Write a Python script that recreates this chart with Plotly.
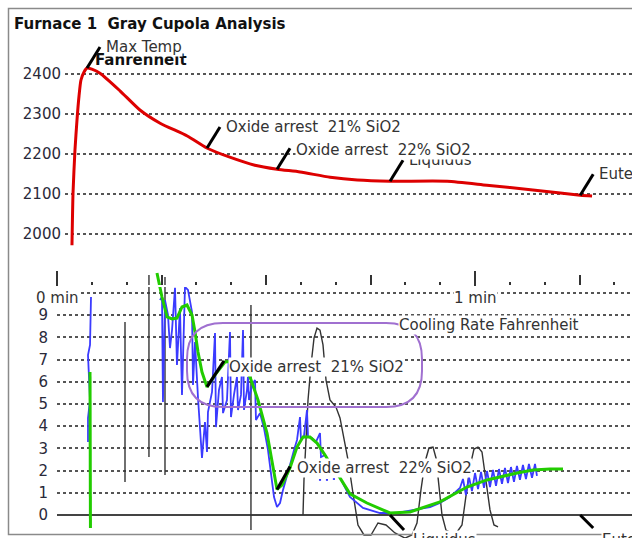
import plotly.graph_objects as go

W, H = 632, 538
FONT = "DejaVu Sans"

# ---------------- data ----------------
# Temperature curve (seconds, degrees F)
temp_t = [2.15, 2.30, 2.58, 2.87, 3.16, 3.44, 3.88, 4.31, 5.0, 6.17, 9.04, 11.9, 14.8, 18.7,
          21.5, 24.8, 28.4, 31.6, 34.9, 39.2, 43.1, 47.8, 56.0, 61.7, 68.3, 75.1, 76.8]
temp_f = [1972, 2102, 2210, 2285, 2345, 2385, 2405, 2415, 2412, 2402, 2358, 2310, 2277, 2245,
          2215, 2192, 2172, 2162, 2155, 2142, 2135, 2132, 2132, 2122, 2110, 2097, 2095]

# Smoothed cooling rate (green)
green_t = [4.74, 4.80, None,
           14.35, 15.07, 15.79, 16.51, 17.22, 17.94, 18.66, 19.38, 19.81, 20.24, 20.81, 21.53,
           22.68, 24.11, 25.55, 26.98, 27.70, 28.85, 30.14, 30.86, 31.58, 32.29, 33.44, 34.45,
           35.31, 36.31, 37.32, 38.47, 39.61, 40.62, 42.05, 44.49, 47.80, 50.67, 54.97, 58.85,
           61.72, 66.02, 68.32, 70.76, 72.63]
green_v = [6.44, -0.59, None,
           10.90, 9.82, 8.92, 8.83, 8.87, 9.37, 9.46, 9.01, 8.24, 7.34, 6.44, 5.77,
           6.31, 6.89, 6.94, 6.62, 6.22, 5.18, 3.69, 2.48, 1.15, 1.35, 2.12, 3.06,
           3.51, 3.51, 3.24, 2.70, 2.12, 1.67, 0.95, 0.54, 0.09, 0.14, 0.59, 1.26,
           1.58, 1.89, 2.03, 2.07, 2.07]

# Raw cooling rate (blue)
blue_t = [4.88, 4.74, 4.45, 4.59, 4.74, 4.45, 4.45, None,
          14.78, 15.07, 15.21, 15.50, 15.93, 16.22, 16.51, 16.94, 17.22, 17.65, 17.94, 18.37,
          18.80, 19.38, 19.52, 19.81, 20.24, 20.81, 21.24, 21.53, 21.67, 22.25, 22.68, 22.82,
          23.25, 23.68, 23.83, 24.40, 24.83, 24.97, 25.40, 25.83, 25.98, 26.41, 26.70, 26.84,
          27.27, 27.41, 27.56, 27.99, 28.42, 28.56, 29.13, 29.71, 30.28, 30.72, 31.15, 31.58,
          32.01, 32.44, 32.87, 33.44, 34.02, 34.45, 34.88, 35.02, 35.45, 35.88, 36.03, 36.60,
          37.17, 37.75, 37.89, 38.47, None,
          37.6, 37.9, None, 38.6, 38.9, None, 39.6, 39.9, None,
          40.62, 42.05, 43.92, 46.36, 48.80, 51.10, 53.54, 54.97, 56.41, 57.84,
          58.27, 58.70, 59.13, 59.56, 60.00, 60.43, 60.86, 61.29, 61.72, 62.15, 62.58, 63.01,
          63.44, 63.87, 64.30, 64.73, 65.16, 65.59, 66.02, 66.45, 66.88, 67.31, 67.74, 68.18,
          68.61, 68.89]
blue_v = [9.82, 7.66, 7.20, 6.44, 5.18, 4.37, 3.29, None,
          9.68, 9.82, 5.09, 9.68, 9.01, 7.52, 8.33, 10.23, 6.76, 9.32, 5.41, 10.27,
          10.14, 9.14, 5.86, 7.79, 5.27, 2.57, 4.19, 2.84, 4.64, 5.54, 8.20, 3.96,
          5.63, 6.22, 4.59, 5.18, 8.24, 4.41, 5.41, 6.22, 4.73, 5.41, 8.33, 4.73,
          5.63, 6.22, 5.18, 5.86, 6.08, 4.28, 4.59, 3.92, 2.93, 1.80, 0.81, 0.36,
          0.54, 1.13, 1.67, 2.25, 2.93, 3.38, 4.41, 3.38, 3.56, 4.73, 3.51, 3.47,
          3.29, 3.69, 2.61, 2.70, None,
          1.58, 1.58, None, 1.58, 1.58, None, 1.62, 1.62, None,
          1.67, 0.81, 0.32, 0.09, 0.09, 0.23, 0.36, 0.54, 0.81, 1.22,
          1.62, 0.90, 1.71, 1.08, 1.89, 1.17, 1.94, 1.22, 1.98, 1.26, 2.03, 1.31,
          2.07, 1.40, 2.12, 1.44, 2.16, 1.49, 2.21, 1.58, 2.25, 1.62, 2.30, 1.67,
          2.30, 1.76]

# Rate derivative (thin black)
deriv_t = [9.76, 9.76, None, 13.2, 13.2, None, 15.5, 15.5, None, 27.84, 27.84, None,
           35.31, 35.45, 35.74, 36.03, 36.46, 36.89, 37.32, 37.75, 38.18, 38.61, 39.18, 40.04,
           40.62, 41.19, 41.77, 42.48, 43.20, 44.06, 45.07, 46.07, 47.22, 48.51, 49.95, 50.95,
           51.67, 52.24, 52.82, 53.39, 53.97, 54.40, 54.83, 55.26, 55.83, 57.12, 58.13, 58.70,
           59.27, 59.85, 60.43, 61.00, 61.57, 62.15, 62.72, 63.30]
deriv_v = [8.69, 1.49, None, 10.81, 2.61, None, 10.72, 1.80, None, 9.46, -0.68, None,
           0.0, 1.58, 3.38, 5.18, 6.76, 7.97, 8.42, 8.33, 7.66, 6.08, 5.18, 4.86,
           4.37, 3.51, 2.48, 0.99, -0.45, -0.90, -0.90, -0.36, -0.45, -0.81, -1.04, -0.90,
           -0.36, 1.13, 2.39, 3.02, 3.06, 2.57, 1.35, 0.0, -0.68, -0.90, -0.45, 0.90,
           2.16, 2.97, 3.06, 2.84, 1.58, 0.23, -0.45, -0.54]

# Events
event_t = [4.31, 21.53, 31.58, 47.8, 75.1]
event_temp = [2415, 2215, 2162, 2132, 2097]
event_rate = [None, 5.77, 1.15, 0.0, 0.0]
event_labels = ["Max Temp", "Oxide arrest\u00a0 21% SiO2", "Oxide arrest\u00a0 22% SiO2",
                "Liquidus", "Eutectic"]

temp_ticks = [2000, 2100, 2200, 2300, 2400]
rate_ticks = list(range(0, 11))
rate_ticktext = [str(v) for v in range(0, 10)] + [""]

# ---------------- geometry (pixels) ----------------
PXS = 6.967      # pixels per second
X0 = 57          # pixel of t = 0
T_PX, T_SCALE = 74, 0.4     # 2400F at y=74, 0.4 px per degree
V_PX, V_SCALE = 515, 22.2   # rate 0 at y=515, 22.2 px per unit


def px_t(px):
    return (px - X0) / PXS


def pyd(py):
    return 1 - py / H


top_y_rng = [2400 - (260 - T_PX) / T_SCALE, 2400 + (T_PX - 30) / T_SCALE]
bot_y_rng = [-(538 - V_PX) / V_SCALE, (V_PX - 265) / V_SCALE]

fig = go.Figure()
fig.add_trace(go.Scatter(x=temp_t, y=temp_f, mode="lines", xaxis="x", yaxis="y",
                         line=dict(color="#dd0000", width=3, shape="spline", smoothing=0.6),
                         showlegend=False))
fig.add_trace(go.Scatter(x=deriv_t, y=deriv_v, mode="lines", xaxis="x2", yaxis="y2",
                         line=dict(color="#333333", width=1.4), showlegend=False,
                         connectgaps=False))
fig.add_trace(go.Scatter(x=blue_t, y=blue_v, mode="lines", xaxis="x2", yaxis="y2",
                         line=dict(color="#3b3bff", width=1.8), showlegend=False,
                         connectgaps=False))
fig.add_trace(go.Scatter(x=green_t, y=green_v, mode="lines", xaxis="x2", yaxis="y2",
                         line=dict(color="#22cc00", width=3), showlegend=False,
                         connectgaps=False))
# carriers for the time tick axes
fig.add_trace(go.Scatter(x=[], y=[], xaxis="x3", yaxis="y3", showlegend=False))
fig.add_trace(go.Scatter(x=[], y=[], xaxis="x4", yaxis="y3", showlegend=False))

grid = dict(showgrid=True, gridcolor="#555555", griddash="dot", gridwidth=1.5)
tickfont = dict(family=FONT, size=15, color="#2a2a3a")

fig.update_layout(
    width=W, height=H, margin=dict(l=0, r=0, t=0, b=0),
    paper_bgcolor="white", plot_bgcolor="white",
    xaxis=dict(domain=[65 / W, 1], range=[px_t(65), px_t(W)], anchor="y", visible=False),
    yaxis=dict(domain=[pyd(260), pyd(30)], range=top_y_rng, anchor="x",
               tickvals=temp_ticks, ticks="", zeroline=False, showline=False,
               tickfont=tickfont, ticklabelstandoff=3, **grid),
    xaxis2=dict(domain=[X0 / W, 1], range=[px_t(X0), px_t(W)], anchor="y2", visible=False),
    yaxis2=dict(domain=[0, pyd(265)], range=bot_y_rng, anchor="x2",
                tickvals=rate_ticks, ticktext=rate_ticktext, ticks="", showline=False,
                zeroline=True, zerolinecolor="#444444", zerolinewidth=2,
                tickfont=tickfont, ticklabelstandoff=8, **grid),
    xaxis3=dict(domain=[50 / W, 1], range=[px_t(50), px_t(W)], anchor="free",
                position=pyd(286), side="top", ticks="outside", tickmode="linear",
                tick0=0, dtick=15, ticklen=11, tickwidth=2, tickcolor="#333333",
                showticklabels=False, showgrid=False, zeroline=False, showline=False,
                minor=dict(tickmode="linear", tick0=0, dtick=5, ticks="outside", ticklen=4,
                           tickwidth=2, tickcolor="#333333", showgrid=False)),
    xaxis4=dict(domain=[50 / W, 1], range=[px_t(50), px_t(W)], anchor="free",
                position=pyd(286), side="top", ticks="outside", tickmode="linear",
                tick0=0, dtick=60, ticklen=15, tickwidth=2, tickcolor="#333333",
                showticklabels=False, showgrid=False, zeroline=False, showline=False),
    yaxis3=dict(domain=[pyd(287), pyd(285)], range=[0, 1], anchor="x3", visible=False),
)

shapes = []
annotations = []
txtfont = dict(family=FONT, size=15, color="#333333")


def pointer(xr, yr, t, v, dx, dy):
    shapes.append(dict(type="line", xref=xr, yref=yr, xsizemode="pixel", ysizemode="pixel",
                       xanchor=t, yanchor=v, x0=0, y0=0, x1=dx, y1=dy,
                       line=dict(color="black", width=3), layer="above"))


def label(xr, yr, t, v, text, xs, ys):
    annotations.append(dict(xref=xr, yref=yr, x=t, y=v, text=text, showarrow=False,
                            xanchor="left", yanchor="middle", xshift=xs, yshift=ys,
                            bgcolor="white", borderpad=0, font=txtfont))


# title and panel captions
annotations.append(dict(xref="paper", yref="paper", x=12 / W, y=pyd(24), showarrow=False,
                        xanchor="left", yanchor="middle",
                        text="<b>Furnace 1\u00a0 Gray Cupola Analysis</b>",
                        font=dict(family=FONT, size=15, color="#111111")))
annotations.append(dict(xref="paper", yref="paper", x=93 / W, y=pyd(60), showarrow=False,
                        xanchor="left", yanchor="middle", text="<b>Fahrenheit</b>",
                        font=dict(family=FONT, size=15, color="#111111")))

# top panel events (Liquidus before the 22% label so it sits underneath)
top_order = [0, 1, 3, 2, 4]
top_yadj = {0: 0, 1: 0, 2: -2, 3: 0, 4: 0}
for i in top_order:
    pointer("x", "y", event_t[i], event_temp[i], 13, 21)
    label("x", "y", event_t[i], event_temp[i], event_labels[i], 18, 21 + top_yadj[i])

annotations.append(dict(xref="paper", yref="paper", x=398 / W, y=pyd(325), showarrow=False,
                        xanchor="left", yanchor="middle", text="Cooling Rate Fahrenheit",
                        bgcolor="white", borderpad=0, font=txtfont))

# bottom panel events
bot_ptr = {1: (17, 26, 21, 20), 2: (13, 23, 19, 21), 3: (14, -15, 22, -25), 4: (13, -13, 21, -25)}
for i in [1, 3, 2, 4]:
    dx, dy, xs, ys = bot_ptr[i]
    pointer("x2", "y2", event_t[i], event_rate[i], dx, dy)
    label("x2", "y2", event_t[i], event_rate[i], event_labels[i], xs, ys)

# minute labels
for t, txt in [(0, "0 min"), (60, "1 min")]:
    annotations.append(dict(xref="x2", yref="paper", x=t, y=pyd(298), text=txt,
                            showarrow=False, xanchor="center", yanchor="middle",
                            bgcolor="white", borderpad=0, font=txtfont))

# highlight box (rounded)
bx0, bx1, by0, by1, r = 187, 422, 323, 407, 36
pts = [("M", bx0 + r, by0), ("L", bx1 - r, by0), ("Q", bx1, by0, bx1, by0 + r),
       ("L", bx1, by1 - r), ("Q", bx1, by1, bx1 - r, by1), ("L", bx0 + r, by1),
       ("Q", bx0, by1, bx0, by1 - r), ("L", bx0, by0 + r), ("Q", bx0, by0, bx0 + r, by0)]
path = ""
for p in pts:
    cmd, vals = p[0], p[1:]
    coords = []
    for k in range(0, len(vals), 2):
        coords.append(f"{vals[k] / W:.5f},{pyd(vals[k + 1]):.5f}")
    path += cmd + " ".join(coords) + " "
shapes.append(dict(type="path", xref="paper", yref="paper", path=path + "Z",
                   line=dict(color="#a070d0", width=2), layer="above"))

# outer frame
shapes.append(dict(type="rect", xref="paper", yref="paper", x0=8.5 / W, x1=1.02,
                   y0=pyd(534.5), y1=pyd(8.5), line=dict(color="#8a8a8a", width=1.5),
                   layer="above"))

fig.update_layout(shapes=shapes, annotations=annotations)
fig.write_html("out.html", config={"displayModeBar": False},
               post_script="document.body.style.margin='0px';"
                           "document.body.style.overflow='hidden';")
